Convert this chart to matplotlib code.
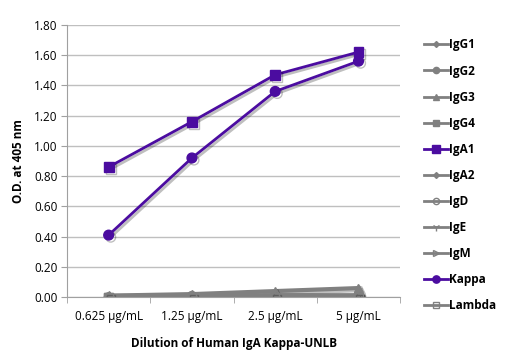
import numpy as np
import matplotlib
matplotlib.use('Agg')
import matplotlib.pyplot as plt
import matplotlib.patheffects as pe
from matplotlib.lines import Line2D

plt.rcParams['font.family'] = ['Open Sans', 'DejaVu Sans']

dilutions = ['0.625 µg/mL', '1.25 µg/mL', '2.5 µg/mL', '5 µg/mL']
series_names = ['IgG1', 'IgG2', 'IgG3', 'IgG4', 'IgA1', 'IgA2', 'IgD', 'IgE', 'IgM', 'Kappa', 'Lambda']
igg1 = [0.01, 0.01, 0.01, 0.01]
igg2 = [0.00, 0.00, 0.01, 0.01]
igg3 = [0.01, 0.02, 0.04, 0.06]
igg4 = [0.00, 0.00, 0.00, 0.00]
iga1 = [0.86, 1.16, 1.47, 1.62]
iga2 = [0.01, 0.01, 0.01, 0.01]
igd = [0.00, 0.01, 0.01, 0.01]
ige = [0.01, 0.01, 0.01, 0.01]
igm = [0.00, 0.00, 0.01, 0.01]
kappa = [0.41, 0.92, 1.36, 1.56]
lam = [0.00, 0.00, 0.00, 0.00]
values = [igg1, igg2, igg3, igg4, iga1, iga2, igd, ige, igm, kappa, lam]

gray = '#808080'
purple = '#4b0ca0'
styles = {
    'IgG1': dict(marker='D', ms=4, color=gray, mfc=gray),
    'IgG2': dict(marker='o', ms=6, color=gray, mfc=gray),
    'IgG3': dict(marker='^', ms=6, color=gray, mfc=gray),
    'IgG4': dict(marker='s', ms=6, color=gray, mfc=gray),
    'IgA1': dict(marker='s', ms=7, color=purple, mfc=purple),
    'IgA2': dict(marker='D', ms=4, color=gray, mfc=gray),
    'IgD': dict(marker='o', ms=6, color=gray, mfc='none'),
    'IgE': dict(marker='1', ms=7, color=gray, mfc='none'),
    'IgM': dict(marker='>', ms=5, color=gray, mfc='none'),
    'Kappa': dict(marker='o', ms=7, color=purple, mfc=purple),
    'Lambda': dict(marker='s', ms=6, color=gray, mfc='none'),
}

fig = plt.figure(figsize=(5.13, 3.55), dpi=100)
ax = fig.add_axes([0.1306, 0.163, 0.6494, 0.767])
x = np.arange(len(dilutions))
shadow = [pe.SimpleLineShadow(offset=(1.5, -1.5), alpha=0.25), pe.Normal()]
handles = []
for name, vals in zip(series_names, values):
    st = styles[name]
    is_purple = st['color'] == purple
    ax.plot(x, vals, linestyle='-', lw=2 if is_purple else 3, color=st['color'],
            marker=st['marker'], ms=st['ms'], mfc=st['mfc'], mec=st['color'],
            path_effects=shadow, zorder=3 if is_purple else 2)
    handles.append(Line2D([], [], color=st['color'], lw=2, marker=st['marker'],
                          ms=st['ms'] * 0.75, mfc=st['mfc'], mec=st['color'], mew=1))

ax.set_xlim(-0.5, 3.5)
ax.set_ylim(0, 1.8)
ax.set_yticks(np.arange(0, 1.81, 0.2))
ax.set_yticklabels(['%.2f' % v for v in np.arange(0, 1.81, 0.2)], fontsize=8.5)
ax.set_xticks(x)
ax.set_xticklabels(dilutions, fontsize=8.5)
ax.set_xticks(np.arange(-0.5, 3.6, 1), minor=True)
ax.tick_params(axis='x', which='major', length=0, pad=9)
ax.tick_params(axis='x', which='minor', length=4, color='#a0a0a0')
ax.tick_params(axis='y', length=4, color='#a0a0a0', pad=3)
ax.grid(axis='y', color='#bfbfbf', lw=1)
ax.set_axisbelow(True)
for s in ['top', 'right']:
    ax.spines[s].set_visible(False)
ax.spines['left'].set_color('#a0a0a0')
ax.spines['bottom'].set_color('#a0a0a0')

ax.set_ylabel('O.D. at 405 nm', fontsize=8.5, fontweight='bold', labelpad=6)
ax.set_xlabel('Dilution of Human IgA Kappa-UNLB', fontsize=8.5, fontweight='bold', labelpad=10)

fig.legend(handles, series_names, loc='upper left', bbox_to_anchor=(0.818, 0.905),
           frameon=False, prop={'size': 8.5, 'weight': 'bold'},
           handlelength=2.0, handletextpad=0.1, labelspacing=1.11, borderaxespad=0)

fig.savefig('out.png', dpi=100)
